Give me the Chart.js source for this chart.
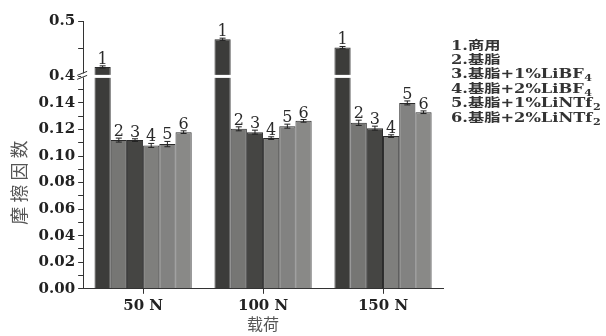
<!DOCTYPE html>
<html lang="zh">
<head>
<meta charset="UTF-8">
<title>摩擦因数</title>
<script src="https://cdn.jsdelivr.net/npm/chart.js"></script>
<style>
  html, body { margin: 0; padding: 0; background: #fff; }
  .wrap { width: 606px; height: 336px; position: relative; }
</style>
</head>
<body>
<div class="wrap"><canvas id="chart"></canvas></div>
<script>
// categories (load)
const loads = ['50 N', '100 N', '150 N'];

// friction coefficient for each sample, per load
const s1 = [0.417, 0.467, 0.452];
const s2 = [0.112, 0.1205, 0.125];
const s3 = [0.112, 0.118, 0.121];
const s4 = [0.108, 0.1135, 0.115];
const s5 = [0.109, 0.1225, 0.140];
const s6 = [0.118, 0.1265, 0.133];

// error bars (half height)
const e1 = [0.002, 0.002, 0.002];
const e2 = [0.0015, 0.0015, 0.002];
const e3 = [0.001, 0.0015, 0.0015];
const e4 = [0.0015, 0.001, 0.001];
const e5 = [0.002, 0.0015, 0.0015];
const e6 = [0.001, 0.001, 0.001];

// legend entries: text + subscript
const legendText = ['1.商用', '2.基脂', '3.基脂+1%LiBF', '4.基脂+2%LiBF', '5.基脂+1%LiNTf', '6.基脂+2%LiNTf'];
const legendSub = ['', '', '4', '4', '2', '2'];

// broken axis ranges
const LOW_MAX = 0.16;
const HIGH_MIN = 0.4;
const HIGH_MAX = 0.5;

const series = [s1, s2, s3, s4, s5, s6];
const errors = [e1, e2, e3, e4, e5, e6];
const colors = ['#3c3c3a', '#767674', '#454543', '#7f7f7d', '#828281', '#898987'];

const serif = '"DejaVu Serif", "Noto Sans CJK SC", serif';
const cjk = '"Noto Sans CJK SC", sans-serif';

const datasets = series.map((vals, i) => ({
  label: legendText[i],
  data: vals.map(v => Math.min(v, LOW_MAX)),
  yAxisID: 'yLow',
  stack: 's' + (i + 1),
  backgroundColor: colors[i],
  borderColor: '#2b2b2b',
  borderWidth: 1
}));
// upper part of the bars that pass the axis break
datasets.push({
  label: 'upper',
  data: s1.map(v => v > HIGH_MIN ? v : null),
  yAxisID: 'yHigh',
  stack: 's1',
  backgroundColor: colors[0],
  borderColor: '#2b2b2b',
  borderWidth: 1
});

const decor = {
  id: 'decor',
  afterDatasetsDraw(chart) {
    const ctx = chart.ctx;
    const lo = chart.scales.yLow, hi = chart.scales.yHigh, area = chart.chartArea;
    const yb = lo.top;
    ctx.save();
    // white gap where the bars cross the break
    ctx.fillStyle = '#fff';
    ctx.fillRect(area.left + 1, yb - 1.5, area.right - area.left, 3);

    // error bars and numbers
    ctx.strokeStyle = '#222';
    ctx.fillStyle = '#2a2a2a';
    ctx.lineWidth = 1;
    ctx.font = '16px ' + serif;
    ctx.textAlign = 'center';
    ctx.textBaseline = 'alphabetic';
    series.forEach((vals, k) => {
      vals.forEach((v, j) => {
        const up = v > LOW_MAX;
        const sc = up ? hi : lo;
        const meta = chart.getDatasetMeta(up ? 6 : k);
        const bar = meta.data[j];
        if (!bar) return;
        const x = bar.x;
        const e = errors[k][j];
        const yt = sc.getPixelForValue(v + e);
        const yl = sc.getPixelForValue(v - e);
        ctx.beginPath();
        ctx.moveTo(x, yt); ctx.lineTo(x, yl);
        ctx.moveTo(x - 3, yt); ctx.lineTo(x + 3, yt);
        ctx.moveTo(x - 3, yl); ctx.lineTo(x + 3, yl);
        ctx.stroke();
        ctx.fillText(String(k + 1), x, yt - 2);
      });
    });

    // axis break marks
    const ax = area.left;
    ctx.fillStyle = '#fff';
    ctx.fillRect(ax - 2, yb - 3, 4, 4);
    ctx.strokeStyle = '#333';
    ctx.beginPath();
    ctx.moveTo(ax - 6, yb - 1); ctx.lineTo(ax + 4, yb - 5);
    ctx.moveTo(ax - 6, yb + 3); ctx.lineTo(ax + 4, yb - 1);
    ctx.stroke();

    // legend text
    ctx.fillStyle = '#333';
    ctx.textAlign = 'left';
    legendText.forEach((t, i) => {
      ctx.save();
      ctx.translate(area.right + 8, area.top + 28.5 + i * 14.4);
      ctx.scale(1.3, 1);
      ctx.font = 'bold 12.5px ' + serif;
      ctx.fillText(t, 0, 0);
      const w = ctx.measureText(t).width;
      if (legendSub[i]) {
        ctx.font = 'bold 8.5px ' + serif;
        ctx.fillText(legendSub[i], w + 0.5, 3);
      }
      ctx.restore();
    });
    ctx.restore();
  }
};

const tickFont = { family: serif, size: 15, weight: 'bold' };

new Chart(document.getElementById('chart'), {
  type: 'bar',
  data: { labels: loads, datasets: datasets },
  options: {
    responsive: true,
    maintainAspectRatio: false,
    animation: false,
    categoryPercentage: 0.81,
    barPercentage: 1.0,
    layout: { padding: { top: 21, right: 163, bottom: 2, left: 8 } },
    plugins: {
      legend: { display: false },
      tooltip: { enabled: false }
    },
    scales: {
      x: {
        type: 'category',
        offset: true,
        grid: { display: true, drawOnChartArea: false, offset: false, tickLength: 5, color: '#333' },
        border: { display: true, color: '#333', width: 1 },
        ticks: { font: { family: serif, size: 15, weight: 'bold' }, color: '#222', padding: 3 },
        title: { display: true, text: '载荷', font: { family: cjk, size: 16 }, color: '#555', padding: { top: -3, bottom: 0 } }
      },
      yLow: {
        type: 'linear',
        position: 'left',
        stack: 'y',
        stackWeight: 211,
        stacked: false,
        min: 0,
        max: LOW_MAX,
        grid: {
          drawOnChartArea: false, tickLength: 5,
          tickColor: c => (c.tick && c.tick.value > 0.155) ? 'rgba(0,0,0,0)' : '#333'
        },
        border: { display: true, color: '#333', width: 1 },
        ticks: {
          stepSize: 0.01,
          autoSkip: false,
          font: tickFont,
          color: '#222',
          padding: 3,
          callback: v => {
            const n = Math.round(v * 100);
            return (n % 2 === 0 && v < 0.155) ? v.toFixed(2) : '';
          }
        },
        title: { display: true, text: '摩 擦 因 数', font: { family: cjk, size: 18 }, color: '#555', padding: { top: 0, bottom: 6 } }
      },
      yHigh: {
        type: 'linear',
        position: 'left',
        stack: 'y',
        stackWeight: 55,
        stacked: false,
        min: HIGH_MIN,
        max: HIGH_MAX,
        grid: { drawOnChartArea: false, tickLength: 5, color: '#333' },
        border: { display: true, color: '#333', width: 1 },
        ticks: {
          stepSize: 0.05,
          autoSkip: false,
          font: tickFont,
          color: '#222',
          padding: 3,
          callback: v => {
            const n = Math.round(v * 100);
            return n % 10 === 0 ? v.toFixed(1) : '';
          }
        }
      }
    }
  },
  plugins: [decor]
});
</script>
</body>
</html>
